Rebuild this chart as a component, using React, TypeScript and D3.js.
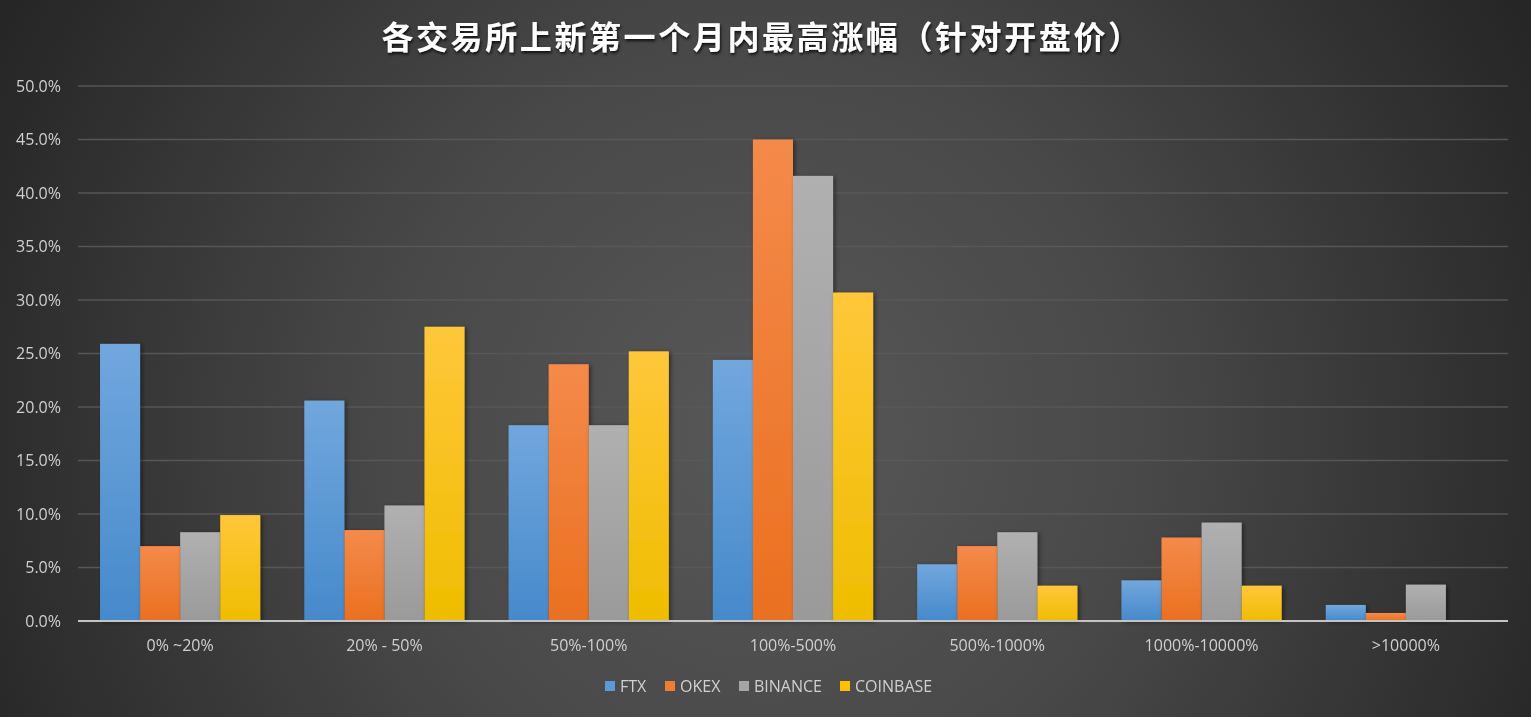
import React from "react";
import * as d3 from "d3";

const categories = ["0% ~20%", "20% - 50%", "50%-100%", "100%-500%", "500%-1000%", "1000%-10000%", ">10000%"];
const seriesNames = ["FTX", "OKEX", "BINANCE", "COINBASE"];
const ftx = [25.9, 20.6, 18.3, 24.4, 5.3, 3.8, 1.5];
const okex = [7.0, 8.5, 24.0, 45.0, 7.0, 7.8, 0.75];
const binance = [8.3, 10.8, 18.3, 41.6, 8.3, 9.2, 3.4];
const coinbase = [9.9, 27.5, 25.2, 30.7, 3.3, 3.3, 0];
const yTicks = [0, 5, 10, 15, 20, 25, 30, 35, 40, 45, 50];
const title = "各交易所上新第一个月内最高涨幅（针对开盘价）";

const seriesValues = [ftx, okex, binance, coinbase];
const colorsTop = ["#71a7dd", "#f48a4a", "#b0b0b0", "#ffc73a"];
const colorsBottom = ["#4689cb", "#ea7020", "#9a9a9a", "#efbd00"];
const legendColors = ["#5b9bd5", "#ed7d31", "#a5a5a5", "#ffc000"];

const W = 1531;
const H = 717;

export default function App() {
  const x0 = d3.scaleBand<string>().domain(categories).range([78, 1508]).padding(0);
  const x1 = d3
    .scaleBand<string>()
    .domain(seriesNames)
    .range([0, x0.bandwidth()])
    .paddingInner(0)
    .paddingOuter(0.55);
  const y = d3.scaleLinear().domain([0, 50]).range([621, 86]);

  const legendX = [605, 665, 739, 840];
  const font = "'Open Sans', 'Noto Sans', sans-serif";

  return (
    <svg
      width={W}
      height={H}
      style={{ position: "fixed", left: 0, top: 0, display: "block" }}
      xmlns="http://www.w3.org/2000/svg"
    >
      <defs>
        <radialGradient id="bg" gradientUnits="userSpaceOnUse" cx={765} cy={430} r={860}>
          <stop offset="0" stopColor="#585858" />
          <stop offset="0.45" stopColor="#484848" />
          <stop offset="1" stopColor="#262626" />
        </radialGradient>
        {seriesNames.map((s, i) => (
          <linearGradient key={s} id={`g${i}`} x1="0" y1="0" x2="0" y2="1">
            <stop offset="0" stopColor={colorsTop[i]} />
            <stop offset="1" stopColor={colorsBottom[i]} />
          </linearGradient>
        ))}
        <filter id="shadow" x="-20%" y="-20%" width="150%" height="140%">
          <feDropShadow dx="2" dy="1" stdDeviation="2" floodColor="#000" floodOpacity="0.45" />
        </filter>
        <filter id="tshadow" x="-10%" y="-30%" width="120%" height="160%">
          <feDropShadow dx="1" dy="2" stdDeviation="1.5" floodColor="#000" floodOpacity="0.8" />
        </filter>
      </defs>
      <rect x={0} y={0} width={W} height={H} fill="url(#bg)" />

      <text
        x={762}
        y={49}
        textAnchor="middle"
        fill="#ffffff"
        fontSize={32}
        fontWeight="bold"
        letterSpacing={2.6}
        fontFamily="'Noto Sans CJK SC', sans-serif"
        filter="url(#tshadow)"
      >
        {title}
      </text>

      {yTicks.map((t) => (
        <g key={t}>
          {t > 0 && (
            <line x1={78} x2={1508} y1={y(t)} y2={y(t)} stroke="#5a5a5a" strokeWidth={1.6} strokeOpacity={0.9} />
          )}
          <text
            x={61}
            y={y(t) + 5.5}
            textAnchor="end"
            fill="#d0d0d0"
            fontSize={16}
            fontFamily={font}
          >
            {t.toFixed(1)}%
          </text>
        </g>
      ))}

      {categories.map((c, ci) => (
        <g key={c} transform={`translate(${x0(c)},0)`}>
          {seriesNames.map((s, si) => {
            const v = seriesValues[si][ci];
            if (v <= 0) return null;
            return (
              <rect
                key={s}
                x={x1(s)}
                y={y(v)}
                width={x1.bandwidth()}
                height={y(0) - y(v)}
                fill={`url(#g${si})`}
                filter="url(#shadow)"
              />
            );
          })}
          <text
            x={x0.bandwidth() / 2}
            y={651}
            textAnchor="middle"
            fill="#d0d0d0"
            fontSize={16}
            fontFamily={font}
          >
            {c}
          </text>
        </g>
      ))}

      <line x1={78} x2={1508} y1={y(0)} y2={y(0)} stroke="#c4c4c4" strokeWidth={2} />

      {seriesNames.map((s, i) => (
        <g key={s}>
          <rect x={legendX[i]} y={681} width={10} height={10} fill={legendColors[i]} />
          <text x={legendX[i] + 15} y={692} fill="#d0d0d0" fontSize={16} fontFamily={font}>
            {s}
          </text>
        </g>
      ))}
    </svg>
  );
}
